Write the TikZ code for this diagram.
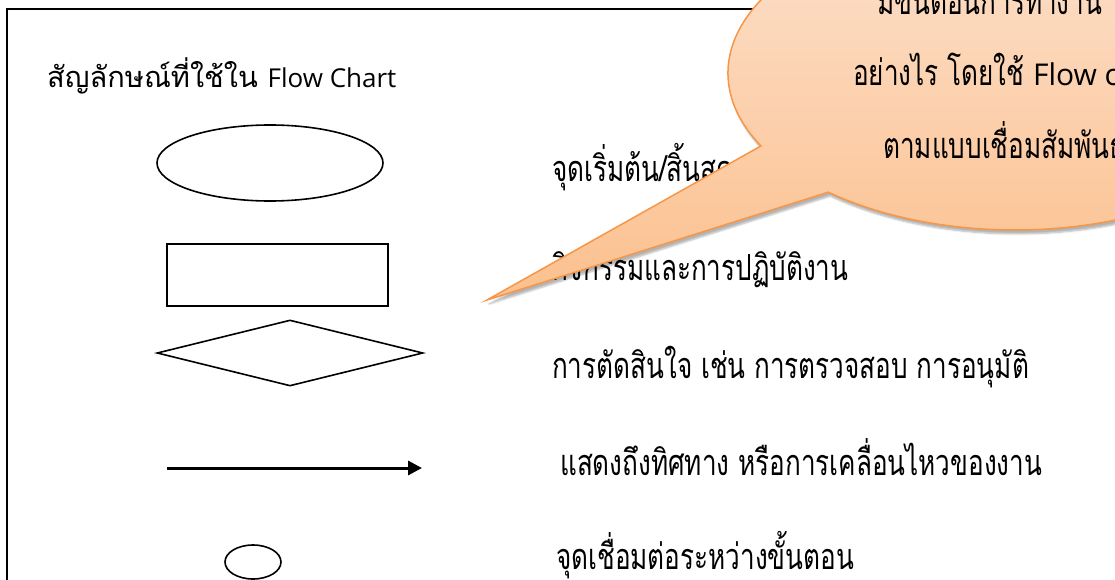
\documentclass[tikz,border=0pt]{standalone}
\usepackage{fontspec}
\newfontfamily\thaifont[Script=Thai]{Loma}
\newfontfamily\thainarrow[Script=Thai,FakeStretch=0.725]{Loma}
\newfontfamily\latinfont{Open Sans}
\usetikzlibrary{positioning,shapes.geometric,arrows.meta,shadows.blur}
\definecolor{calloutline}{HTML}{F79646}
\definecolor{callouttop}{HTML}{FDE3D0}
\definecolor{calloutbottom}{HTML}{FBC08E}
\tikzset{edge/.style = {-{Triangle[length=14pt,width=14pt]},line width=3pt}}
\tikzset{legend text/.style = {anchor=base west,inner sep=0pt,font=\thainarrow\fontsize{36}{40}\selectfont}}

\begin{document}
\begin{tikzpicture}[x=1pt,y=1pt,symbol/.style={draw,line width=1.6pt,inner sep=0pt}]
                \useasboundingbox (0,0) rectangle (1115,-580);
                \clip (0,0) rectangle (1115,-580);
                \draw[line width=2.4pt] (7,-9) rectangle (1300,-700);

                \node[anchor=base west,inner sep=0pt,font=\thaifont\fontsize{29}{32}\selectfont] (title) at (47,-88) {สัญลักษณ์ที่ใช้ใน {\latinfont\fontsize{26}{30}\selectfont Flow Chart}};

                \node[symbol,ellipse,minimum width=226pt,minimum height=76pt] (terminal) at (270,-163) {};
                \node[symbol,rectangle,minimum width=221pt,minimum height=62pt] (process) at (277.5,-275) {};
                \node[symbol,diamond,minimum width=266pt,minimum height=66pt] (decision) at (290,-353) {};
                \coordinate (flowstart) at (167,-468);
                \coordinate (flowend) at (422,-468);
                \draw[edge] (flowstart) -- (flowend);
                \node[symbol,ellipse,minimum width=56pt,minimum height=34pt] (connector) at (253,-562) {};

                \node[legend text] (terminaltext) at (552,-182) {จุดเริ่มต้น/สิ้นสุด};
                \node[legend text] (processtext) at (552,-280) {กิจกรรมและการปฏิบัติงาน};
                \node[legend text] (decisiontext) at (552,-378) {การตัดสินใจ เช่น การตรวจสอบ การอนุมัติ};
                \node[legend text] (flowtext) at (560,-475) {แสดงถึงทิศทาง หรือการเคลื่อนไหวของงาน};
                \node[legend text] (connectortext) at (556,-569) {จุดเชื่อมต่อระหว่างขั้นตอน};

                % speech bubble over the page
                \coordinate (tip) at (487,-300);
                \coordinate (bubble) at (1015,-73);
                \path[draw=calloutline,line width=1.5pt,top color=callouttop,bottom color=calloutbottom,
                      blur shadow={shadow xshift=2pt,shadow yshift=-4pt,shadow opacity=30,shadow blur steps=6}]
                    (tip) -- ([shift={(207.7:287 and 157)}]bubble) arc[start angle=207.7,end angle=-130.6,x radius=287,y radius=157] -- cycle;
                \node[legend text] (bubbleline1) at (877,-15) {มีขั้นตอนการทำงาน};
                \node[legend text] (bubbleline2) at (853,-86) {อย่างไร โดยใช้ {\latinfont\fontsize{30}{34}\selectfont Flow chart}};
                \node[legend text] (bubbleline3) at (883,-159) {ตามแบบเชื่อมสัมพันธ์};
            \end{tikzpicture}
\end{document}
